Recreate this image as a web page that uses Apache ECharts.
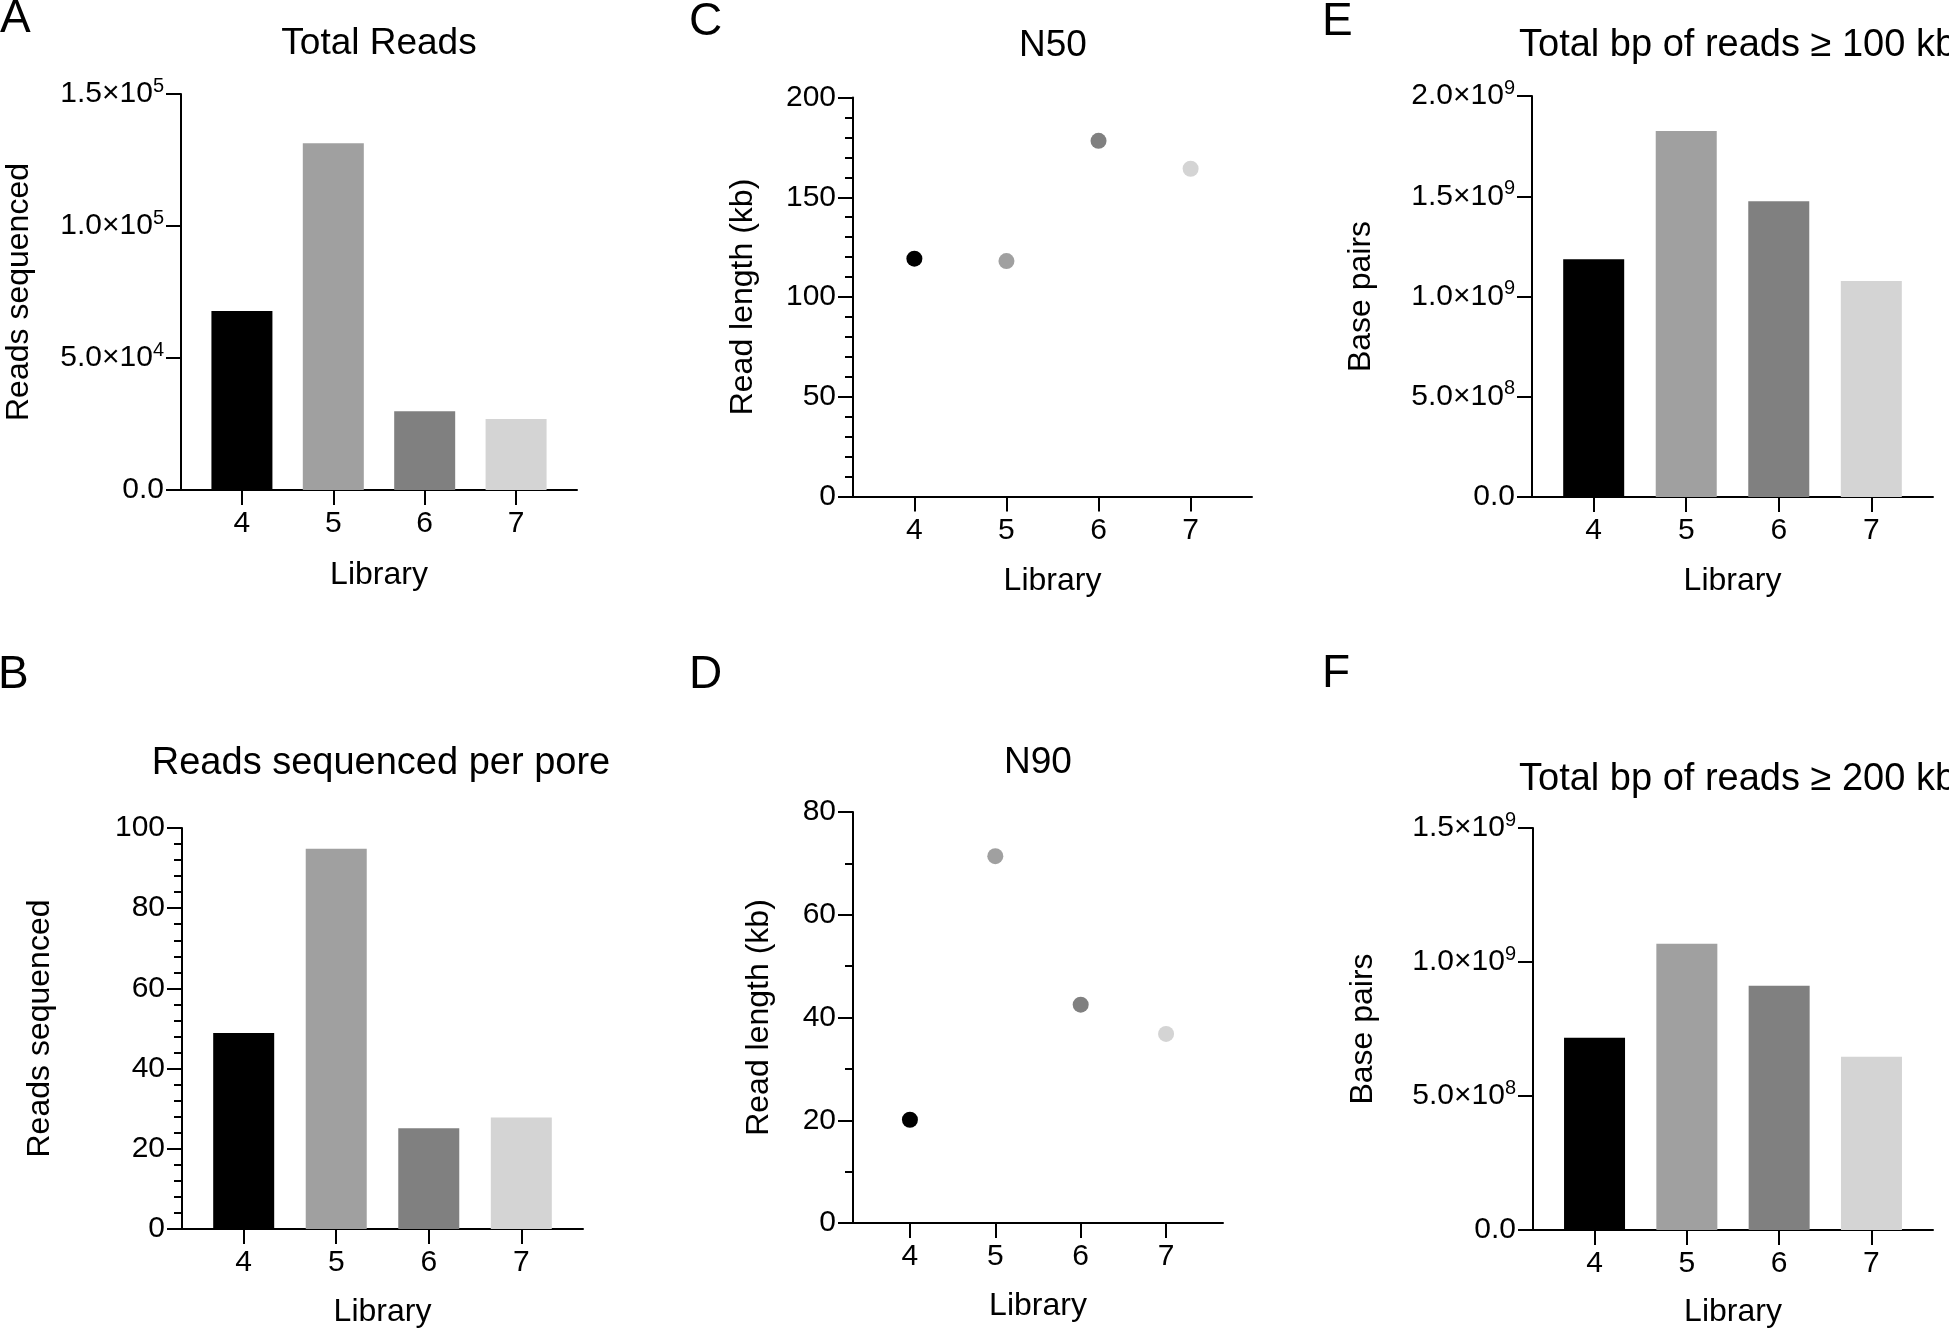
<!DOCTYPE html>
<html><head><meta charset="utf-8">
<script src="https://cdn.jsdelivr.net/npm/echarts@6/dist/echarts.min.js"></script>
<style>html,body{margin:0;padding:0;background:#fff}#c{width:1949px;height:1334px}</style>
</head><body><div id="c"></div>
<script>
// ---- data ----
const libraries = [4, 5, 6, 7];
const libraryColors = ['#000000', '#a0a0a0', '#808080', '#d4d4d4'];
const totalReads = [67800, 131300, 29800, 26900];
const readsPerPore = [48.9, 94.8, 25.1, 27.8];
const n50 = [119.2, 118.0, 178.3, 164.3];
const n90 = [20.1, 71.4, 42.5, 36.8];
const bp100kb = [1.186e9, 1.825e9, 1.475e9, 1.077e9];
const bp200kb = [7.17e8, 1.068e9, 9.11e8, 6.46e8];
const ticksA = ['0.0', '5.0×10^4', '1.0×10^5', '1.5×10^5'];
const ticksB = ['0', '20', '40', '60', '80', '100'];
const ticksC = ['0', '50', '100', '150', '200'];
const ticksD = ['0', '20', '40', '60', '80'];
const ticksE = ['0.0', '5.0×10^8', '1.0×10^9', '1.5×10^9', '2.0×10^9'];
const ticksF = ['0.0', '5.0×10^8', '1.0×10^9', '1.5×10^9'];

const FONT = '"Liberation Sans", Arial, Helvetica, sans-serif';

const panels = [
  {letter:'A', kind:'bar', vals: totalReads, ticks: ticksA, interval: 5e4, minor: 0,
   grid:{left:181, top:94, width:396, height:396}, title:'Total Reads', tSize:37, tX:379, tY:44, tAlign:'center',
   yName:'Reads sequenced', yNX:19, xNY:575, lX:0, lY:19},
  {letter:'B', kind:'bar', vals: readsPerPore, ticks: ticksB, interval: 20, minor: 5,
   grid:{left:182, top:828, width:401, height:401}, title:'Reads sequenced per pore', tSize:38, tX:381, tY:764, tAlign:'center',
   yName:'Reads sequenced', yNX:40, xNY:1312, lX:-2, lY:675},
  {letter:'C', kind:'dot', vals: n50, ticks: ticksC, interval: 50, minor: 5,
   grid:{left:853, top:97.5, width:399, height:399}, title:'N50', tSize:37, tX:1053, tY:46, tAlign:'center',
   yName:'Read length (kb)', yNX:743, xNY:581, lX:689, lY:22},
  {letter:'D', kind:'dot', vals: n90, ticks: ticksD, interval: 20, minor: 2,
   grid:{left:853, top:812, width:370, height:411}, title:'N90', tSize:37, tX:1038, tY:763, tAlign:'center',
   yName:'Read length (kb)', yNX:759, xNY:1306, lX:689, lY:675},
  {letter:'E', kind:'bar', vals: bp100kb, ticks: ticksE, interval: 5e8, minor: 0,
   grid:{left:1532, top:96, width:401, height:401}, title:'Total bp of reads ≥ 100 kb', tSize:38, tX:1519, tY:46, tAlign:'left',
   yName:'Base pairs', yNX:1361, xNY:581, lX:1322, lY:22},
  {letter:'F', kind:'bar', vals: bp200kb, ticks: ticksF, interval: 5e8, minor: 0,
   grid:{left:1533, top:828, width:400, height:402}, title:'Total bp of reads ≥ 200 kb', tSize:38, tX:1519, tY:780, tAlign:'left',
   yName:'Base pairs', yNX:1363, xNY:1312, lX:1322, lY:674}
];

function supLabel(s) {
  const p = s.split('^');
  return p.length > 1 ? p[0] + '{sup|' + p[1] + '}' : s;
}

const grids = [], xAxes = [], yAxes = [], series = [], elements = [];
panels.forEach((p, i) => {
  grids.push(Object.assign({containLabel:false}, p.grid));
  xAxes.push({
    type:'value', gridIndex:i, min: 10/3, max: 23/3,
    axisLine:{show:true, onZero:false, lineStyle:{color:'#000', width:2}},
    axisTick:{show:true, length:15, customValues: libraries, lineStyle:{color:'#000', width:2}},
    axisLabel:{show:true, customValues: libraries, margin:19, fontSize:30, fontFamily:FONT, color:'#000'},
    splitLine:{show:false}
  });
  const ticks = p.ticks, itv = p.interval;
  yAxes.push({
    type:'value', gridIndex:i, min:0, max: itv * (ticks.length - 1), interval: itv,
    axisLine:{show:true, onZero:false, lineStyle:{color:'#000', width:2}},
    axisTick:{show:true, length:15, lineStyle:{color:'#000', width:2}},
    minorTick:{show: p.minor > 0, splitNumber: p.minor || 5, length:8, lineStyle:{color:'#000', width:2}},
    axisLabel:{margin:17, fontSize:30, fontFamily:FONT, color:'#000', lineHeight:36,
      formatter: v => supLabel(ticks[Math.round(v / itv)] || ''),
      rich:{sup:{fontSize:20, fontFamily:FONT, color:'#000', verticalAlign:'top', lineHeight:20}}},
    splitLine:{show:false}, minorSplitLine:{show:false}
  });
  const data = libraries.map((lib, j) => ({value:[lib, p.vals[j]], itemStyle:{color: libraryColors[j], opacity:1}}));
  if (p.kind === 'bar') {
    series.push({type:'bar', xAxisIndex:i, yAxisIndex:i, barWidth:61, data, silent:true});
  } else {
    series.push({type:'scatter', xAxisIndex:i, yAxisIndex:i, symbol:'circle', symbolSize:16, data, silent:true,
      itemStyle:{opacity:1}});
  }
  const g = p.grid;
  elements.push({type:'text', x:p.lX, y:p.lY, silent:true,
    style:{text:p.letter, font:'46px ' + FONT, fill:'#000', textAlign:'left', textVerticalAlign:'middle'}});
  elements.push({type:'text', x:p.tX, y:p.tY, silent:true,
    style:{text:p.title, font:p.tSize + 'px ' + FONT, fill:'#000', textAlign:p.tAlign, textVerticalAlign:'middle'}});
  elements.push({type:'text', x:g.left + g.width / 2, y:p.xNY, silent:true,
    style:{text:'Library', font:'32px ' + FONT, fill:'#000', textAlign:'center', textVerticalAlign:'middle'}});
  elements.push({type:'text', x:p.yNX, y:g.top + g.height / 2, rotation:Math.PI / 2, silent:true,
    style:{text:p.yName, font:'32px ' + FONT, fill:'#000', textAlign:'center', textVerticalAlign:'middle'}});
});

const chart = echarts.init(document.getElementById('c'), null, {renderer:'canvas'});
chart.setOption({
  animation:false,
  backgroundColor:'#ffffff',
  grid: grids, xAxis: xAxes, yAxis: yAxes, series: series,
  graphic:{elements: elements}
});
</script>
</body></html>
